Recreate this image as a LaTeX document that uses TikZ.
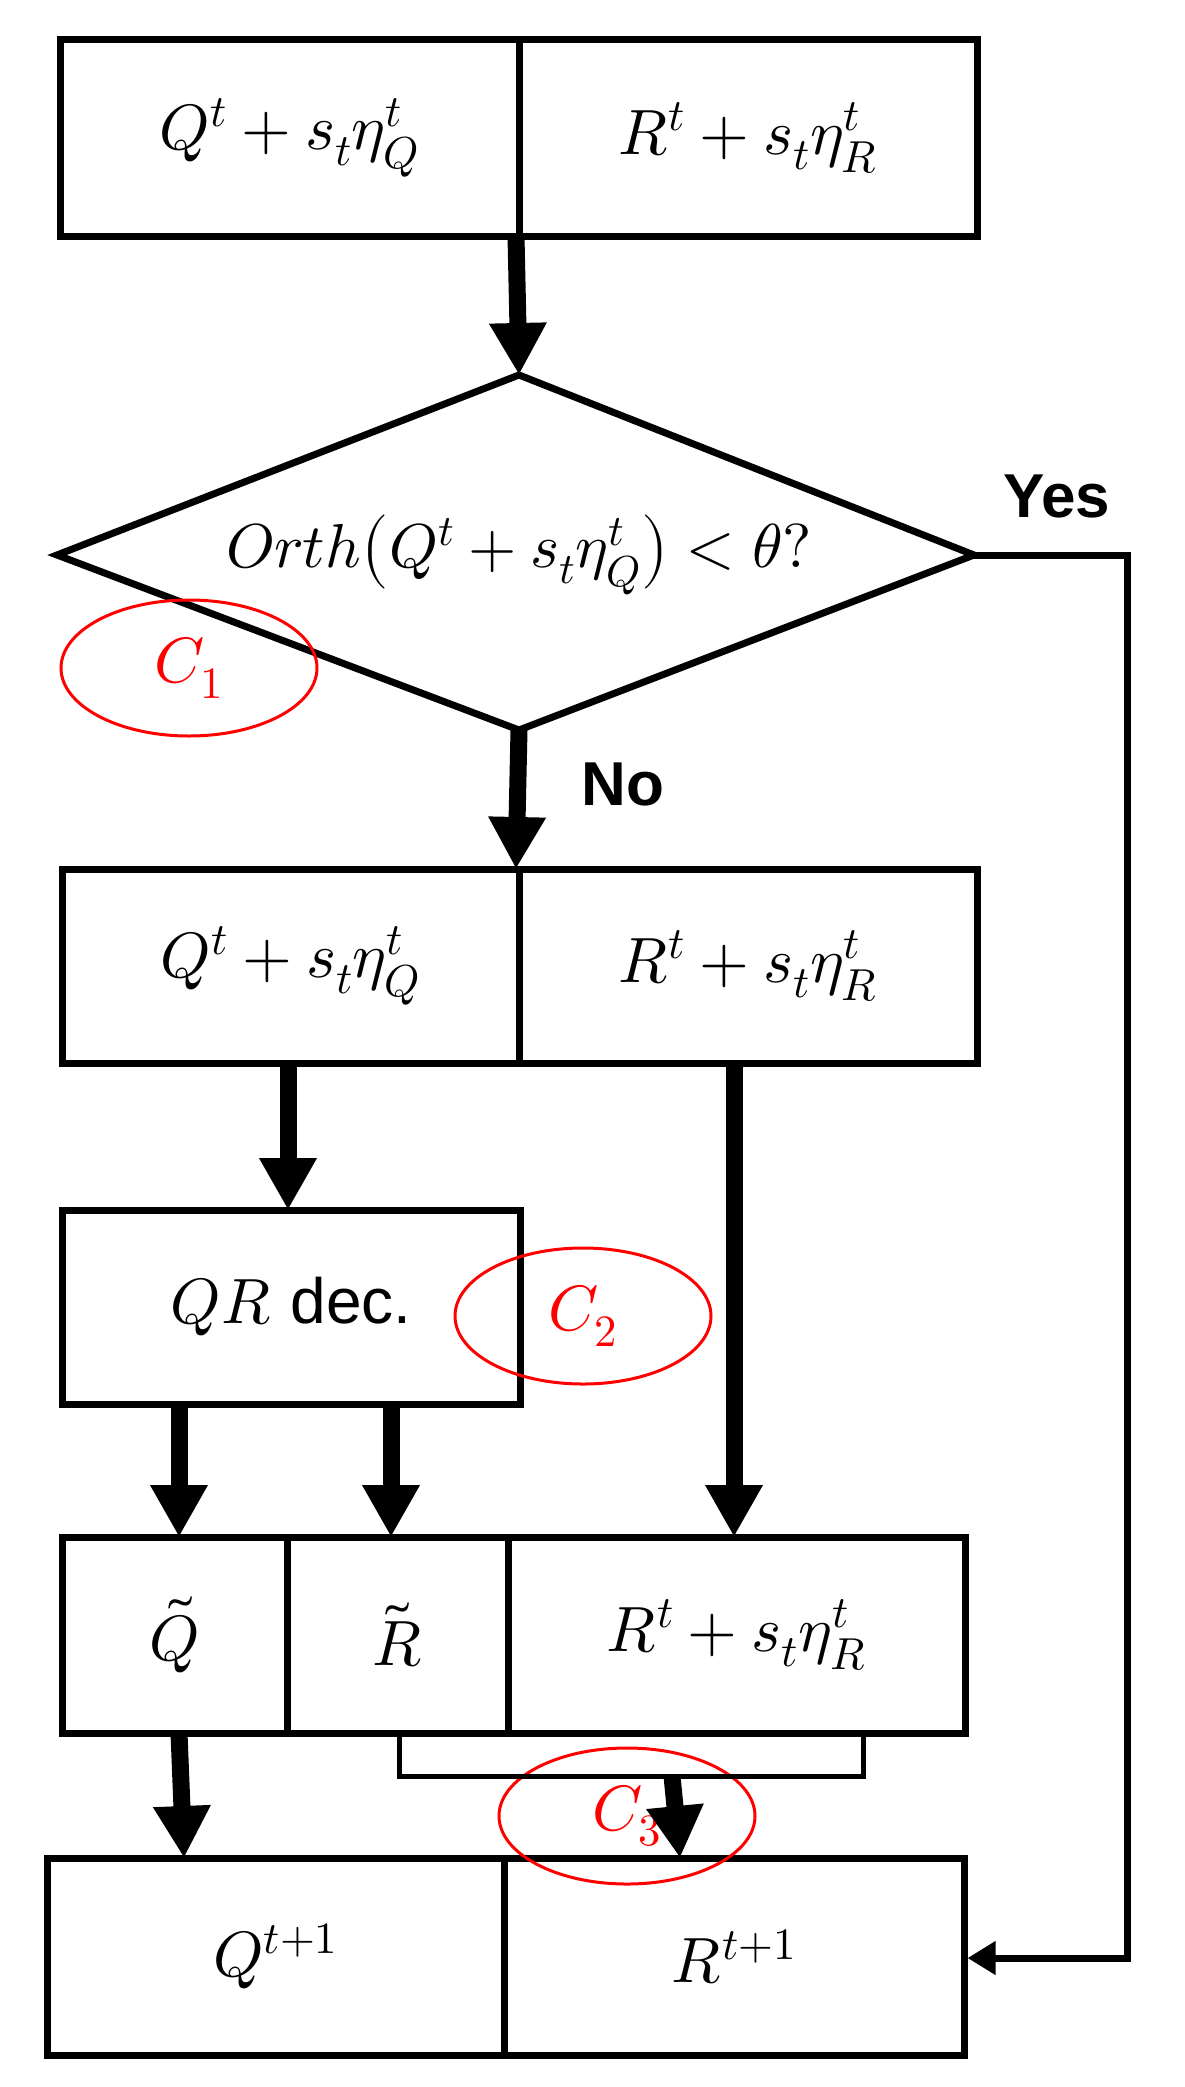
\documentclass[tikz,border=0pt]{standalone}
\usepackage{fontspec}
\usepackage{unicode-math}
\setmathfont{Latin Modern Math}
\newfontfamily\lab{Liberation Sans}
\usetikzlibrary{arrows.meta,shapes.geometric}
\begin{document}
\begin{tikzpicture}[x=1pt,y=-1pt,
  box/.style={draw,line width=7pt,inner sep=0,font=\fontsize{64}{76}\selectfont},
  big/.style={line width=17pt,-{Triangle[length=52pt,width=54pt]}},
  thin/.style={line width=7pt,-{Triangle[length=28pt,width=32pt]}},
  red/.style={draw=red,line width=3pt,ellipse,minimum width=256pt,minimum height=136pt,text=red,font=\fontsize{64}{76}\selectfont},
  lbl/.style={font=\lab\bfseries\fontsize{62}{72}\selectfont}]
\useasboundingbox (0,0) rectangle (1184,2087);
% top box
\node[box,minimum width=459pt,minimum height=196pt] (a1) at (289.5,138) {$Q^t+s_t\eta_Q^t$};
\node[box,minimum width=458pt,minimum height=196pt] (a2) at (748,138) {$R^t+s_t\eta_R^t$};
% diamond
\coordinate (dt) at (519,375); \coordinate (dl) at (57,555);
\coordinate (dr) at (974,555); \coordinate (db) at (519,730);
\draw[line width=7pt,line join=miter] (dt)--(dr)--(db)--(dl)--cycle;
\node[font=\fontsize{62}{74}\selectfont] (dq) at (519,555) {$Orth\big(Q^t+s_t\eta_Q^t\big)<\theta?$};
\node[red] (c1) at (189,668) {$C_1$};
\node[lbl] (yes) at (1057,496) {Yes};
\node[lbl] (no) at (623,784) {No};
% second box
\node[box,minimum width=457pt,minimum height=194pt] (b1) at (290.5,966) {$Q^t+s_t\eta_Q^t$};
\node[box,minimum width=458pt,minimum height=194pt] (b2) at (748,966) {$R^t+s_t\eta_R^t$};
% QR
\node[box,minimum width=458pt,minimum height=194pt] (qr) at (291,1307) {$QR$ {\lab dec.}};
\node[red] (c2) at (583,1316) {$C_2$};
% row
\node[box,minimum width=225pt,minimum height=196pt] (r1) at (174.5,1635) {$\tilde Q$};
\node[box,minimum width=221pt,minimum height=196pt] (r2) at (397.5,1635) {$\tilde R$};
\node[box,minimum width=457pt,minimum height=196pt] (r3) at (736.5,1635) {$R^t+s_t\eta_R^t$};
% bottom
\node[box,minimum width=457pt,minimum height=197pt] (e1) at (275.5,1956.5) {$Q^{t+1}$};
\node[box,minimum width=460pt,minimum height=197pt] (e2) at (734,1956.5) {$R^{t+1}$};
\node[red] (c3) at (627,1816) {$C_3$};
% connectors
\draw[big] (516,236) -- (dt);
\draw[big] (db) -- (516,869);
\draw[big] (288,1063) -- (288,1210);
\draw[big] (734,1063) -- (734,1537);
\draw[big] (179,1404) -- (179,1537);
\draw[big] (391,1404) -- (391,1537);
\draw[big] (179,1733) -- (184,1858);
\coordinate (bk) at (672,1776);
\draw[line width=5pt] (399,1733) |- (bk) -| (863,1733);
\draw[big] (bk) -- (680,1858);
\coordinate (rc) at (1127,555); \coordinate (rd) at (1127,1958);
\draw[thin,line join=miter] (dr) -- (rc) -- (rd) -- (e2.east|-rd);
\end{tikzpicture}
\end{document}
